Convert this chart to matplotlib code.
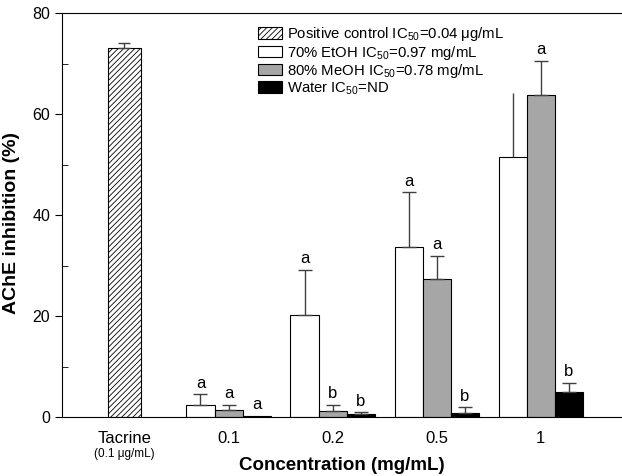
import numpy as np
import matplotlib
matplotlib.use('Agg')
import matplotlib.pyplot as plt

plt.rcParams['font.family'] = ['Liberation Sans', 'DejaVu Sans']
plt.rcParams['mathtext.fontset'] = 'custom'
plt.rcParams['mathtext.rm'] = 'Liberation Sans'
plt.rcParams['hatch.linewidth'] = 0.6

# --- data ---
conc_labels = ['0.1', '0.2', '0.5', '1']
tacrine_val = 73.2
tacrine_err = 1.0

etoh = [2.4, 20.2, 33.6, 51.6]
etoh_err = [2.1, 9.0, 10.9, 12.7]
etoh_letters = ['a', 'a', 'a', '']

meoh = [1.3, 1.2, 27.3, 63.9]
meoh_err = [1.1, 1.2, 4.6, 6.7]
meoh_letters = ['a', 'b', 'a', 'a']

water = [0.2, 0.5, 0.8, 4.9]
water_err = [0.0, 0.4, 1.1, 1.9]
water_letters = ['a', 'b', 'b', 'b']

legend_labels = ['Positive control IC$_{50}$=0.04 \u03bcg/mL',
                 '70% EtOH IC$_{50}$=0.97 mg/mL',
                 '80% MeOH IC$_{50}$=0.78 mg/mL',
                 'Water IC$_{50}$=ND']

fig = plt.figure(figsize=(6.22, 4.76), dpi=100)
ax = fig.add_axes([0.0997, 0.124, 0.9003, 0.848])

w = 0.27
x = np.arange(1, len(conc_labels) + 1)

hb = ax.bar(0, tacrine_val, 0.31, facecolor='white', edgecolor='black', hatch='//////', linewidth=0.8)
ax.errorbar(0, tacrine_val, yerr=[[0], [tacrine_err]], fmt='none', ecolor='#404040', elinewidth=1, capsize=4, capthick=1)

series = [(etoh, etoh_err, etoh_letters, 'white', -w),
          (meoh, meoh_err, meoh_letters, '#a6a6a6', 0),
          (water, water_err, water_letters, 'black', w)]
handles = [hb]
for vals, errs, letters, col, off in series:
    b = ax.bar(x + off, vals, w, facecolor=col, edgecolor='black', linewidth=0.8)
    handles.append(b)
    for xi, v, e, lt in zip(x + off, vals, errs, letters):
        if e > 0:
            cap = 5 if lt else 0
            ax.errorbar(xi, v, yerr=[[0], [e]], fmt='none', ecolor='#404040', elinewidth=1, capsize=cap, capthick=1)
        if lt:
            ax.text(xi, v + e + 0.7, lt, ha='center', va='bottom', fontsize=12)

ax.set_xlim(-0.6, 4.78)
ax.set_ylim(0, 80)
ax.set_yticks([0, 20, 40, 60, 80])
ax.set_yticks([10, 30, 50, 70], minor=True)
ax.tick_params(axis='y', which='major', direction='out', length=5, labelsize=11.5)
ax.tick_params(axis='y', which='minor', direction='in', length=4)
ax.set_xticks([0] + list(x))
ax.set_xticklabels(['Tacrine'] + conc_labels, fontsize=12)
ax.tick_params(axis='x', length=0, pad=10)
ax.text(0, -0.078, '(0.1 \u03bcg/mL)', transform=ax.get_xaxis_transform(), ha='center', va='top', fontsize=8.5)
ax.spines['right'].set_visible(False)

ax.set_xlabel('Concentration (mg/mL)', fontsize=13.5, fontweight='bold', labelpad=8)
ax.set_ylabel('AChE inhibition (%)', fontsize=14, fontweight='bold')
ax.yaxis.set_label_coords(-0.075, 0.48)

ax.legend(handles, legend_labels, loc='upper left', bbox_to_anchor=(0.34, 0.985), frameon=False,
          fontsize=10.7, handlelength=1.6, handleheight=0.8, handletextpad=0.3, labelspacing=0.02,
          borderaxespad=0)

fig.savefig('out.png', dpi=100)
